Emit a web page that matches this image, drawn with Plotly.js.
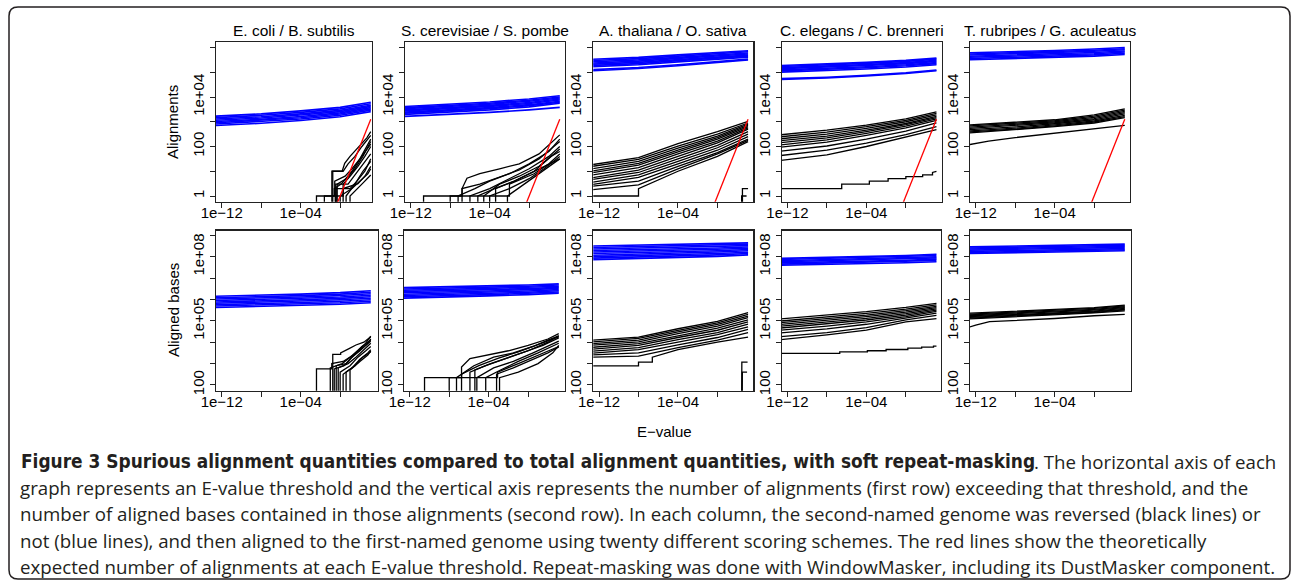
<!DOCTYPE html>
<html><head><meta charset="utf-8">
<script src="https://cdn.plot.ly/plotly-3.0.1.min.js"></script>
<style>html,body{margin:0;padding:0;background:#fff}#chart{width:1292px;height:587px}</style>
</head><body><div id="chart"></div>
<script>
// ---------------- DATA (stored as log10) ----------------
const COLUMN_TITLES = ["E. coli / B. subtilis", "S. cerevisiae / S. pombe", "A. thaliana / O. sativa", "C. elegans / C. brenneri", "T. rubripes / G. aculeatus"];
const ROW_TITLES = ["Alignments", "Aligned bases"];
const X_TITLE = "E\u2212value";
const X_TICK_VALS = [1e-12, 1e-8, 1e-4, 1];
const X_TICK_TEXT = ["1e\u221212", "", "1e\u221204", ""];
const Y1_TICK_VALS = [1, 10, 100, 1e3, 1e4, 1e5, 1e6];
const Y1_TICK_TEXT = ["1", "", "100", "", "1e+04", "", ""];
const Y2_TICK_VALS = [1e2, 1e3, 1e4, 1e5, 1e6, 1e7, 1e8, 1e9];
const Y2_TICK_TEXT = ["100", "", "", "1e+05", "", "", "1e+08", ""];

// log10(E-value) sample points used by the smooth curves
const GRID_LOG_E = [-13, -8, -4, 0, 3.1];
// theoretical expectation (red): expected alignments = E
const RED_LOG_E = [-1, 3.1];
const RED_LOG_N = [-1, 3.1];

// ---- row 1: alignments (log10 count at GRID_LOG_E) ----
const ecoliAlnBlue = [
 [2.84,2.94,3.05,3.20,3.41],[2.90,3.00,3.11,3.26,3.47],[2.95,3.05,3.16,3.31,3.52],[3.00,3.10,3.21,3.36,3.57],
 [3.05,3.15,3.27,3.41,3.62],[3.10,3.20,3.32,3.46,3.67],[3.16,3.26,3.38,3.52,3.73],[3.22,3.32,3.44,3.58,3.79]];
const scerAlnBlue = [
 [3.29,3.38,3.48,3.60,3.75],[3.34,3.43,3.53,3.65,3.79],[3.38,3.47,3.57,3.69,3.83],[3.43,3.52,3.62,3.74,3.88],
 [3.47,3.56,3.66,3.78,3.92],[3.52,3.61,3.71,3.83,3.96],[3.56,3.65,3.75,3.87,4.00],[3.61,3.70,3.80,3.92,4.05],
 [3.21,3.29,3.38,3.48,3.58]];
const athaAlnBlue = [
 [5.22,5.30,5.42,5.52,5.61],[5.27,5.35,5.47,5.56,5.65],[5.32,5.40,5.51,5.60,5.69],[5.37,5.45,5.56,5.65,5.74],
 [5.42,5.50,5.60,5.69,5.78],[5.47,5.55,5.65,5.74,5.83],[5.52,5.60,5.70,5.78,5.87],
 [5.05,5.15,5.26,5.38,5.50],[5.10,5.19,5.30,5.42,5.53]];
const celeAlnBlue = [
 [5.00,5.06,5.13,5.21,5.30],[5.05,5.11,5.18,5.26,5.35],[5.09,5.15,5.22,5.30,5.39],[5.14,5.20,5.27,5.35,5.44],
 [5.18,5.24,5.31,5.39,5.48],[5.23,5.29,5.36,5.44,5.53],[5.27,5.33,5.40,5.48,5.57],
 [4.71,4.77,4.85,4.95,5.06],[4.74,4.80,4.88,4.98,5.09]];
const trubAlnBlue = [
 [5.50,5.55,5.60,5.65,5.72],[5.55,5.60,5.65,5.70,5.77],[5.60,5.65,5.70,5.75,5.82],[5.64,5.69,5.74,5.80,5.86],
 [5.69,5.74,5.79,5.85,5.91],[5.73,5.78,5.83,5.89,5.95],[5.78,5.83,5.88,5.94,6.00]];

const athaAlnBlack = [
 [1.25,1.55,2.12,2.60,3.02],[1.18,1.48,2.02,2.50,2.95],[1.08,1.40,1.93,2.42,2.90],[0.99,1.32,1.85,2.36,2.85],
 [0.92,1.25,1.78,2.30,2.80],[0.83,1.15,1.70,2.22,2.75],[0.72,1.05,1.60,2.15,2.70],[0.65,0.95,1.50,2.05,2.60],
 [0.54,0.85,1.40,1.95,2.50],[0.45,0.75,1.30,1.85,2.40],[0.38,0.60,1.20,1.75,2.30],[0.24,0.45,1.10,1.70,2.25]];
const celeAlnBlack = [
 [2.46,2.66,2.86,3.12,3.40],[2.38,2.58,2.80,3.06,3.34],[2.30,2.50,2.73,3.00,3.28],[2.22,2.42,2.66,2.93,3.22],
 [2.14,2.35,2.60,2.88,3.17],[2.05,2.27,2.53,2.82,3.12],[1.96,2.18,2.45,2.75,3.06],[1.80,2.02,2.30,2.62,2.95],
 [1.62,1.85,2.14,2.48,2.80],[1.42,1.66,2.00,2.40,2.68]];
const trubAlnBlack = [
 [2.86,2.97,3.08,3.28,3.52],[2.82,2.93,3.04,3.23,3.47],[2.77,2.89,3.00,3.18,3.42],[2.72,2.84,2.96,3.13,3.37],
 [2.67,2.79,2.92,3.08,3.32],[2.62,2.74,2.87,3.03,3.26],[2.58,2.70,2.83,2.99,3.21],[2.54,2.67,2.80,2.95,3.17]];

// step-like / irregular black curves: {e: log10 E, n: log10 count}
const ecoliAlnBlackSteps = [
 {e:[-0.84,-0.84,0.2,0.46,1.0,1.6,2.2,2.7,3.1], n:[-1,1.0,1.0,1.32,1.6,1.85,2.1,2.35,2.6]},
 {e:[-0.75,-0.75,0.3,0.8,1.5,2.2,3.1], n:[-1,1.0,1.0,1.3,1.6,2.0,2.45]},
 {e:[-2.4,-2.4,-0.6,-0.6,0.1,0.6,1.2,2.0,3.1], n:[-1,0,0,0.3,0.48,0.7,1.0,1.5,2.3]},
 {e:[-1.6,-1.6,-0.55,-0.55,0.5,1.2,2.0,3.1], n:[-1,0,0,0.6,0.8,1.1,1.5,2.1]},
 {e:[-0.5,-0.5,0.3,0.3,1.0,1.8,2.5,3.1], n:[-1,0,0,0.48,0.8,1.2,1.6,2.0]},
 {e:[-0.45,-0.45,0.8,1.6,2.4,3.1], n:[-1,0.48,0.48,0.9,1.3,1.7]},
 {e:[-0.4,-0.4,1.0,1.7,2.5,3.1], n:[-1,0.3,0.3,0.6,1.0,1.5]},
 {e:[0.0,0.0,1.2,2.0,2.8,3.1], n:[-1,0.0,0.3,0.6,0.9,1.1]},
 {e:[0.3,0.3,1.8,2.5,3.1], n:[-1,0.3,0.5,0.8,1.2]},
 {e:[-0.3,-0.3,0.6,1.5,2.3,3.1], n:[-1,0.48,0.7,1.1,1.6,2.2]},
 {e:[0.6,0.6,1.5,2.3,3.1], n:[-1,0.0,0.48,1.0,1.4]},
 {e:[1.0,1.0,2.2,3.1], n:[-1,0,0.48,0.85]}];
const scerAlnBlackSteps = [
 {e:[-10.7,-10.7,-2.0,-2.0,0.5,2.0,3.1], n:[-1,0,0,0.48,0.9,1.3,1.7]},
 {e:[-8.0,-8.0,-6.8,-6.8,-6.3,-5,-3,-1,1,3.1], n:[-1,0,0,0.3,0.72,0.9,1.1,1.3,1.7,2.47]},
 {e:[-7.2,-7.2,-5.5,-4,-2,0,2,3.1], n:[-1,0,0.3,0.6,0.9,1.3,1.8,2.3]},
 {e:[-6.8,-6.8,-5,-3,-1,1,3.1], n:[-1,0.3,0.48,0.75,1.05,1.5,2.2]},
 {e:[-6.0,-6.0,-4,-2,0,2,3.1], n:[-1,0,0.3,0.7,1.1,1.6,2.0]},
 {e:[-5.2,-5.2,-3.5,-1.5,0.5,2,3.1], n:[-1,0,0.3,0.6,1.0,1.5,1.9]},
 {e:[-4.6,-4.6,-3.0,-1.0,1,2.2,3.1], n:[-1,0,0.48,0.8,1.2,1.6,1.8]},
 {e:[-4.0,-4.0,-2.0,0,1.5,3.1], n:[-1,0,0.3,0.7,1.1,1.6]},
 {e:[-3.4,-3.4,-1.5,0.5,2,3.1], n:[-1,0.3,0.6,1.0,1.3,1.5]},
 {e:[-2.2,-2.2,-0.5,1,2.5,3.1], n:[-1,0,0.48,0.9,1.3,1.5]}];
const athaAlnBlackSteps = [
 {e:[-13,-8.0,-8.0,-4,0,3.1], n:[0,0,0.3,1.0,1.6,2.2]},
 {e:[2.45,2.53,2.53,3.1], n:[-1,-1,0.3,0.3]},
 {e:[2.40,2.45,2.45,2.95], n:[-1,-1,0,0]}];
const celeAlnBlackSteps = [
 {e:[-13,-6.5,-6.5,-3.7,-3.7,-1.8,-1.8,0,0,1.7,1.7,2.7,2.7,3.1], n:[0.30,0.30,0.48,0.48,0.60,0.60,0.70,0.70,0.78,0.78,0.85,0.85,0.95,1.0]}];
const trubAlnBlackSteps = [
 {e:[-13,-12,-10.7,-8,-4,0,3.1], n:[2.05,2.12,2.22,2.36,2.54,2.70,2.85]}];

// ---- row 2: aligned bases ----
const ecoliBasesBlue = [
 [5.62,5.67,5.72,5.78,5.85],[5.69,5.74,5.79,5.85,5.92],[5.75,5.80,5.86,5.92,5.99],[5.82,5.87,5.93,5.99,6.06],
 [5.88,5.93,5.99,6.05,6.13],[5.95,6.00,6.06,6.12,6.20],[6.02,6.07,6.12,6.19,6.27],[6.08,6.13,6.18,6.25,6.34],
 [6.15,6.20,6.25,6.32,6.41]];
const scerBasesBlue = [
 [6.06,6.11,6.17,6.23,6.30],[6.12,6.17,6.23,6.29,6.35],[6.18,6.23,6.29,6.34,6.41],[6.24,6.29,6.34,6.40,6.46],
 [6.31,6.35,6.40,6.46,6.52],[6.37,6.41,6.46,6.51,6.57],[6.43,6.47,6.52,6.57,6.62],[6.49,6.53,6.57,6.62,6.68],
 [6.55,6.59,6.63,6.68,6.73]];
const athaBasesBlue = [
 [7.86,7.91,7.96,8.02,8.09],[7.93,7.98,8.03,8.09,8.15],[8.00,8.05,8.10,8.15,8.21],[8.07,8.12,8.16,8.22,8.28],
 [8.15,8.19,8.23,8.28,8.34],[8.22,8.26,8.30,8.35,8.40],[8.29,8.33,8.37,8.41,8.46],[8.36,8.40,8.43,8.48,8.52],
 [8.43,8.47,8.50,8.54,8.59],[8.50,8.54,8.57,8.61,8.65]];
const celeBasesBlue = [
 [7.60,7.64,7.68,7.72,7.77],[7.65,7.70,7.74,7.78,7.83],[7.71,7.75,7.79,7.84,7.89],[7.76,7.81,7.85,7.89,7.95],
 [7.81,7.86,7.90,7.95,8.00],[7.87,7.92,7.96,8.01,8.06],[7.92,7.97,8.01,8.06,8.12]];
const trubBasesBlue = [
 [8.15,8.18,8.21,8.24,8.28],[8.20,8.23,8.26,8.29,8.33],[8.25,8.28,8.31,8.34,8.38],[8.31,8.34,8.37,8.40,8.44],
 [8.36,8.39,8.42,8.45,8.49],[8.41,8.44,8.47,8.50,8.54],[8.46,8.49,8.52,8.55,8.59]];

const athaBasesBlack = [
 [4.09,4.24,4.63,4.98,5.38],[4.00,4.18,4.55,4.90,5.30],[3.92,4.10,4.48,4.83,5.22],[3.85,4.02,4.40,4.75,5.15],
 [3.75,3.93,4.30,4.66,5.05],[3.66,3.85,4.22,4.56,4.95],[3.57,3.75,4.12,4.45,4.85],[3.48,3.65,4.00,4.35,4.72],
 [3.40,3.50,3.88,4.22,4.60],[3.30,3.35,3.75,4.10,4.45]];
const celeBasesBlack = [
 [5.08,5.27,5.43,5.63,5.82],[4.98,5.18,5.35,5.55,5.75],[4.90,5.10,5.27,5.48,5.68],[4.82,5.02,5.20,5.41,5.62],
 [4.74,4.94,5.12,5.34,5.56],[4.65,4.85,5.04,5.27,5.50],[4.55,4.75,4.95,5.20,5.44],[4.42,4.62,4.84,5.12,5.36],
 [4.25,4.45,4.68,5.05,5.26],[4.10,4.34,4.57,4.95,5.10]];
const trubBasesBlack = [
 [5.35,5.45,5.53,5.62,5.74],[5.31,5.41,5.49,5.58,5.70],[5.27,5.37,5.45,5.54,5.66],[5.23,5.33,5.41,5.50,5.62],
 [5.19,5.29,5.38,5.46,5.58],[5.15,5.25,5.34,5.43,5.54],[5.12,5.22,5.30,5.40,5.51],[5.08,5.18,5.27,5.37,5.47]];

const ecoliBasesBlackSteps = [
 {e:[-2.4,-2.4,-0.85,-0.85,0.3,1.0,1.8,2.5,3.1], n:[1,2.75,2.75,3.0,3.1,3.3,3.6,3.9,4.29]},
 {e:[-0.75,-0.75,0.05,0.05,0.9,1.6,2.4,3.1], n:[1,3.43,3.43,3.5,3.7,3.87,4.0,4.25]},
 {e:[-0.6,-0.6,0.4,1.2,2.0,2.7,3.1], n:[1,2.75,2.9,3.3,3.6,3.9,4.15]},
 {e:[-0.4,-0.4,0.6,1.4,2.2,3.1], n:[1,2.9,3.0,3.4,3.7,4.05]},
 {e:[-0.2,-0.2,0.8,1.6,2.4,3.1], n:[1,2.8,3.0,3.3,3.65,3.95]},
 {e:[0.0,0.0,1.0,1.8,2.6,3.1], n:[1,2.6,2.9,3.3,3.6,3.8]},
 {e:[0.3,0.3,1.2,2.0,2.8,3.1], n:[1,2.5,2.8,3.2,3.5,3.65]},
 {e:[0.6,0.6,1.5,2.3,3.1], n:[1,2.6,2.9,3.3,3.56]},
 {e:[-1.0,-1.0,0.2,1.3,2.2,3.1], n:[1,2.8,3.0,3.4,3.8,4.1]},
 {e:[1.0,1.0,2.0,2.8,3.1], n:[1,2.7,3.1,3.4,3.6]}];
const scerBasesBlackSteps = [
 {e:[-10.5,-10.5,-3.1,-3.1,-1.0,1.0,3.1], n:[1,2.34,2.34,2.6,3.0,3.4,3.8]},
 {e:[-8.0,-8.0,-6.75,-6.75,-5.9,-4,-2,0,2,3.1], n:[1,2.34,2.34,2.84,3.23,3.4,3.6,3.85,4.15,4.4]},
 {e:[-7.26,-7.26,-5.5,-3.5,-1.5,0.5,2.0,3.1], n:[1,2.34,2.9,3.3,3.5,3.8,4.1,4.3]},
 {e:[-6.75,-6.75,-5.0,-3.0,-1.0,1.0,3.1], n:[1,2.5,2.9,3.25,3.55,3.9,4.25]},
 {e:[-5.9,-5.9,-4.3,-2.5,-0.5,1.5,3.1], n:[1,2.6,2.9,3.2,3.5,3.85,4.2]},
 {e:[-5.2,-5.2,-3.5,-1.5,0.5,2.0,3.1], n:[1,2.34,2.8,3.1,3.5,3.8,4.05]},
 {e:[-4.3,-4.3,-2.8,-1.0,1.0,2.5,3.1], n:[1,2.34,2.7,3.1,3.5,3.8,3.95]},
 {e:[-3.2,-3.2,-1.5,0.5,2.0,3.1], n:[1,2.5,2.8,3.2,3.5,3.78]},
 {e:[-2.9,-2.9,-1.0,1.0,2.5,3.1], n:[1,2.34,2.6,3.0,3.5,3.85]},
 {e:[-5.4,-5.4,-3.8,-2.0,0,2.0,3.1], n:[1,2.7,3.0,3.3,3.6,4.0,4.3]}];
const athaBasesBlackSteps = [
 {e:[-13,-8.0,-8.0,-6.6,-6.6,-4,0,3.1], n:[2.89,2.89,3.07,3.07,3.30,3.65,4.0,4.24]},
 {e:[2.45,2.47,2.47,3.05], n:[1,1,3.07,3.07]},
 {e:[2.50,2.52,2.52,3.0], n:[1,1,2.6,2.6]}];
const celeBasesBlackSteps = [
 {e:[-13,-6.7,-6.7,-3.9,-3.9,-2.0,-2.0,0.2,0.2,1.6,1.6,2.8,2.8,3.1], n:[3.48,3.48,3.55,3.55,3.60,3.60,3.66,3.66,3.72,3.72,3.77,3.77,3.82,3.82]}];
const trubBasesBlackSteps = [
 {e:[-13,-12,-10.6,-8,-4,0,3.1], n:[4.66,4.80,4.96,5.02,5.11,5.24,5.30]}];

// ---------------- LAYOUT GEOMETRY (pixels) ----------------
const W = 1292, H = 587;
const ROW_PX = [[42.3, 201.7], [230.5, 390.7]];
const ROW_YRANGE = [[-0.23, 6.21], [1.73, 9.23]];
const PX_PER_DECADE = 9.87, X_LEFT = -12.58;
const PANELS = [
 {row:0,col:0,px:[216,371.7], blue:ecoliAlnBlue, black:[], steps:ecoliAlnBlackSteps},
 {row:0,col:1,px:[405,565], blue:scerAlnBlue, black:[], steps:scerAlnBlackSteps},
 {row:0,col:2,px:[593.3,753.3], blue:athaAlnBlue, black:athaAlnBlack, steps:athaAlnBlackSteps},
 {row:0,col:3,px:[781.7,941.7], blue:celeAlnBlue, black:celeAlnBlack, steps:celeAlnBlackSteps},
 {row:0,col:4,px:[970,1130], blue:trubAlnBlue, black:trubAlnBlack, steps:trubAlnBlackSteps},
 {row:1,col:0,px:[216,377.7], blue:ecoliBasesBlue, black:[], steps:ecoliBasesBlackSteps},
 {row:1,col:1,px:[404,565], blue:scerBasesBlue, black:[], steps:scerBasesBlackSteps},
 {row:1,col:2,px:[593.3,753.3], blue:athaBasesBlue, black:athaBasesBlack, steps:athaBasesBlackSteps},
 {row:1,col:3,px:[781.7,941], blue:celeBasesBlue, black:celeBasesBlack, steps:celeBasesBlackSteps},
 {row:1,col:4,px:[970,1131], blue:trubBasesBlue, black:trubBasesBlack, steps:trubBasesBlackSteps}];

const p10 = v => Math.pow(10, v);
const fx = x => x / W, fy = y => 1 - y / H;
function gridXY(lines){ const x=[],y=[]; lines.forEach(l=>{ l.forEach((v,i)=>{x.push(p10(GRID_LOG_E[i])); y.push(p10(v));}); x.push(null); y.push(null);}); return {x,y}; }
function polyXY(lines){ const x=[],y=[]; lines.forEach(l=>{ l.e.forEach((v,i)=>{x.push(p10(v)); y.push(p10(l.n[i]));}); x.push(null); y.push(null);}); return {x,y}; }

const AX_FONT = {family:"Liberation Sans, Arial, sans-serif", size:15, color:"#000"};
const traces = [], layout = {
  width:W, height:H, margin:{l:0,r:0,t:0,b:0}, paper_bgcolor:"#fff", plot_bgcolor:"#fff",
  showlegend:false, annotations:[], shapes:[], font:AX_FONT };

PANELS.forEach((p,k)=>{
  const id = k+1, xa = "x"+id, ya = "y"+id;
  const rp = ROW_PX[p.row];
  layout["xaxis"+id] = { domain:[fx(p.px[0]), fx(p.px[1])], anchor:ya, type:"log",
    range:[X_LEFT, X_LEFT + (p.px[1]-p.px[0])/PX_PER_DECADE], showline:true, mirror:true, linecolor:"#222", linewidth:1.2,
    ticks:"outside", ticklen:5, tickwidth:1, tickcolor:"#222", tickvals:X_TICK_VALS, ticktext:X_TICK_TEXT,
    ticklabelstandoff:-8, showgrid:false, zeroline:false, tickfont:AX_FONT, fixedrange:true };
  layout["yaxis"+id] = { domain:[fy(rp[1]), fy(rp[0])], anchor:xa, type:"log", range:ROW_YRANGE[p.row],
    showline:true, mirror:true, linecolor:"#222", linewidth:1.2, ticks:"outside", ticklen:5, tickwidth:1, tickcolor:"#222",
    tickvals: p.row===0?Y1_TICK_VALS:Y2_TICK_VALS, ticktext: p.row===0?Y1_TICK_TEXT:Y2_TICK_TEXT, tickangle:-90,
    showgrid:false, zeroline:false, tickfont:AX_FONT, fixedrange:true };
  const b = gridXY(p.blue);
  traces.push({type:"scatter", mode:"lines", x:b.x, y:b.y, xaxis:xa, yaxis:ya, line:{color:"rgb(0,0,255)", width:1.6}, hoverinfo:"skip", connectgaps:false});
  const k1 = gridXY(p.black), k2 = polyXY(p.steps);
  traces.push({type:"scatter", mode:"lines", x:k1.x.concat(k2.x), y:k1.y.concat(k2.y), xaxis:xa, yaxis:ya, line:{color:"#000", width:1.3}, hoverinfo:"skip", connectgaps:false});
  if (p.row===0) traces.push({type:"scatter", mode:"lines", x:RED_LOG_E.map(p10), y:RED_LOG_N.map(p10), xaxis:xa, yaxis:ya, line:{color:"rgb(255,0,0)", width:1.3}, hoverinfo:"skip"});
  if (p.row===0) layout.annotations.push({xref:"paper", yref:"paper", x:fx((p.px[0]+p.px[1])/2), y:fy(30), text:COLUMN_TITLES[p.col], showarrow:false, xanchor:"center", yanchor:"middle", font:{family:AX_FONT.family, size:15.5, color:"#000"}});
});

layout.annotations.push({xref:"paper", yref:"paper", x:fx(173), y:fy(122), text:ROW_TITLES[0], textangle:-90, showarrow:false, xanchor:"center", yanchor:"middle", font:AX_FONT});
layout.annotations.push({xref:"paper", yref:"paper", x:fx(173), y:fy(310), text:ROW_TITLES[1], textangle:-90, showarrow:false, xanchor:"center", yanchor:"middle", font:AX_FONT});
layout.annotations.push({xref:"paper", yref:"paper", x:fx(665), y:fy(431), text:X_TITLE, showarrow:false, xanchor:"center", yanchor:"middle", font:AX_FONT});

// caption
const CAPTION_BOLD = "Figure 3 Spurious alignment quantities compared to total alignment quantities, with soft repeat-masking";
const CAPTION_LINES = [
 ". The horizontal axis of each",
 "graph represents an E-value threshold and the vertical axis represents the number of alignments (first row) exceeding that threshold, and the",
 "number of aligned bases contained in those alignments (second row). In each column, the second-named genome was reversed (black lines) or",
 "not (blue lines), and then aligned to the first-named genome using twenty different scoring schemes. The red lines show the theoretically",
 "expected number of alignments at each E-value threshold. Repeat-masking was done with WindowMasker, including its DustMasker component."];
const CAP_Y = [461, 487.5, 513.5, 540, 566];
const CAP_FONT = {family:"Open Sans, Noto Sans, sans-serif", size:18.7, color:"#231f20"};
layout.annotations.push({xref:"paper", yref:"paper", x:fx(19), y:fy(CAP_Y[0]), text:"<b>"+CAPTION_BOLD+"</b>", showarrow:false, xanchor:"left", yanchor:"middle", font:{family:"Liberation Sans Narrow, DejaVu Sans Condensed, sans-serif", size:18.9, color:"#231f20"}});
layout.annotations.push({xref:"paper", yref:"paper", x:fx(1278), y:fy(CAP_Y[0]), text:CAPTION_LINES[0], showarrow:false, xanchor:"right", yanchor:"middle", font:CAP_FONT});
for (let i=1;i<5;i++) layout.annotations.push({xref:"paper", yref:"paper", x:fx(18), y:fy(CAP_Y[i]), text:CAPTION_LINES[i], showarrow:false, xanchor:"left", yanchor:"middle", font:CAP_FONT});

// rounded frame
(function(){ const l=9,r=1290,t=7,b=579,rd=9;
  const P=(x,y)=>fx(x)+","+fy(y);
  const path = "M "+P(l+rd,t)+" L "+P(r-rd,t)+" Q "+P(r,t)+" "+P(r,t+rd)+" L "+P(r,b-rd)+" Q "+P(r,b)+" "+P(r-rd,b)+
    " L "+P(l+rd,b)+" Q "+P(l,b)+" "+P(l,b-rd)+" L "+P(l,t+rd)+" Q "+P(l,t)+" "+P(l+rd,t)+" Z";
  layout.shapes.push({type:"path", xref:"paper", yref:"paper", path:path, line:{color:"#231f20", width:1.5}, fillcolor:"rgba(0,0,0,0)"});
})();

Plotly.newPlot("chart", traces, layout, {staticPlot:true, displayModeBar:false});
</script></body></html>
